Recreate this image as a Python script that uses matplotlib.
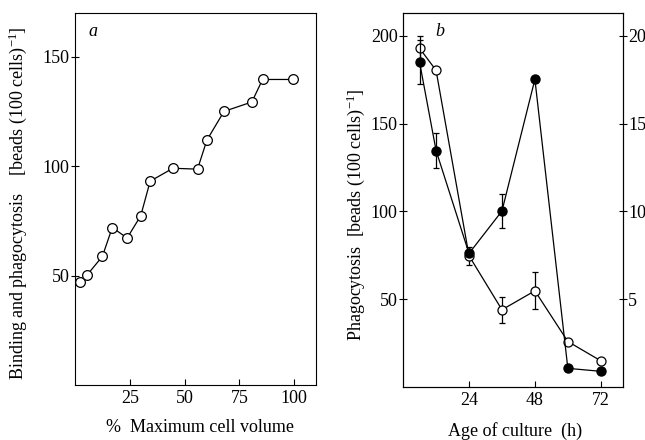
import matplotlib
matplotlib.use('Agg')
import matplotlib.pyplot as plt

plt.rcParams['font.family'] = ['Liberation Serif', 'DejaVu Serif']
plt.rcParams['mathtext.fontset'] = 'custom'
plt.rcParams['mathtext.rm'] = 'Liberation Serif'
plt.rcParams['mathtext.it'] = 'Liberation Serif:italic'

# panel a
vol = [2.5, 5.5, 12.5, 17, 23.8, 30, 34.3, 44.7, 55.9, 60.2, 68, 80.7, 85.6, 99.6]
binding = [47.3, 50.3, 58.8, 72, 67.2, 77.4, 93.2, 99.1, 98.7, 112, 125.1, 129.4, 139.7, 139.7]

# panel b
age = [6, 12, 24, 36, 48, 60, 72]
phago_open = [193, 180.4, 74.7, 43.9, 54.7, 25.8, 14.8]
phago_open_err = [7, 0, 5, 7.5, 10.5, 0, 0]
filled = [18.5, 13.47, 7.6, 10.02, 17.53, 1.05, 0.88]   # right axis
filled_err = [1.25, 1.0, 0, 0.95, 0, 0, 0]

fs = 13
fig = plt.figure(figsize=(6.45, 4.4), dpi=100)

axa = fig.add_axes([0.1163, 0.125, 0.3737, 0.845])
axa.plot(vol, binding, '-', color='black', lw=0.9, marker='o', ms=7,
         mfc='white', mec='black', mew=0.9)
axa.set_xlim(0, 110)
axa.set_ylim(0, 170)
axa.set_xticks([25, 50, 75, 100])
axa.set_yticks([50, 100, 150])
axa.tick_params(axis='x', direction='in', length=4, labelsize=fs)
axa.tick_params(axis='y', direction='inout', length=6, labelsize=fs, pad=1)
axa.text(0.054, 0.94, 'a', transform=axa.transAxes, fontsize=fs, style='italic')
axa.set_xlabel('%  Maximum cell volume', fontsize=fs)
axa.xaxis.set_label_coords(0.52, -0.091)
axa.set_ylabel('Binding and phagocytosis    [beads (100 cells)$^{-1}$]', fontsize=13)
axa.yaxis.set_label_coords(-0.19, 0.49)

axb = fig.add_axes([0.625, 0.121, 0.3405, 0.849])
axb.errorbar(age, phago_open, yerr=phago_open_err, fmt='none', ecolor='black',
             elinewidth=0.9, capsize=2.5, capthick=0.9)
axb.plot(age, phago_open, '-', color='black', lw=0.9, marker='o', ms=6.5,
         mfc='white', mec='black', mew=0.9, zorder=3)
axb.set_xlim(0, 80)
axb.set_ylim(0, 213)
axb.set_xticks([24, 48, 72])
axb.set_yticks([50, 100, 150, 200])
axb.tick_params(axis='x', direction='in', length=4, labelsize=fs)
axb.tick_params(axis='y', direction='inout', length=6, labelsize=fs, pad=1)
axb.text(0.145, 0.94, 'b', transform=axb.transAxes, fontsize=fs, style='italic')
axb.set_xlabel('Age of culture  (h)', fontsize=fs)
axb.xaxis.set_label_coords(0.508, -0.095)
axb.set_ylabel('Phagocytosis  [beads (100 cells)$^{-1}$]', fontsize=fs)
axb.yaxis.set_label_coords(-0.165, 0.46)

ax2 = axb.twinx()
ax2.errorbar(age, filled, yerr=filled_err, fmt='none', ecolor='black',
             elinewidth=0.9, capsize=2.5, capthick=0.9)
ax2.plot(age, filled, '-', color='black', lw=0.9, marker='o', ms=6.5,
         mfc='black', mec='black', zorder=3)
ax2.set_ylim(0, 21.3)
ax2.set_yticks([5, 10, 15, 20])
ax2.tick_params(axis='y', direction='inout', length=6, labelsize=fs, pad=1)

fig.savefig('out.png', dpi=100)
